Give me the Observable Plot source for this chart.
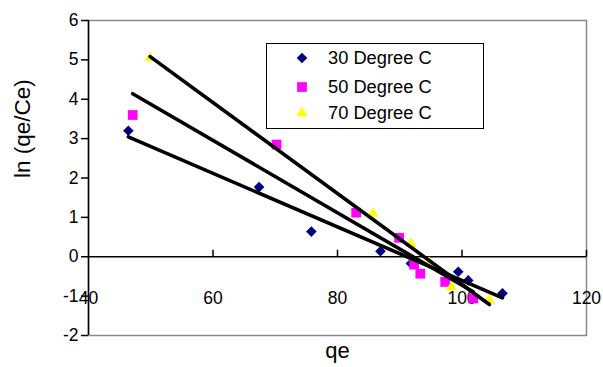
<!DOCTYPE html>
<html><head><meta charset="utf-8">
<script src="https://cdn.jsdelivr.net/npm/d3@7"></script>
<script src="https://cdn.jsdelivr.net/npm/@observablehq/plot@0.6"></script>
<style>
body{margin:0;background:#fff;font-family:"Liberation Sans",Arial,sans-serif;}
#wrap{position:relative;width:603px;height:367px;overflow:hidden;}
#legend{position:absolute;left:266px;top:43px;width:218px;height:86px;border:1.5px solid #000;background:#fff;box-sizing:border-box;}
.item{position:absolute;left:0;height:22px;width:210px;}
.item svg{position:absolute;left:25px;top:1px;}
.item span{position:absolute;left:61px;top:0;line-height:22px;font-size:18.3px;color:#000;white-space:nowrap;}
</style></head><body><div id="wrap"></div>
<script>
// axis ticks
const xTicks = [40, 60, 80, 100, 120];
const yTicks = [-2, -1, 0, 1, 2, 3, 4, 5, 6];
// series
const seriesNames = ["30 Degree C", "50 Degree C", "70 Degree C"];
const seriesColors = ["#000080", "#FF00FF", "#FFFF00"];
const seriesSymbols = ["diamond2", "square", "triangle"];
const seriesR = [4.8, 5.5, 4.1];
// data: qe and ln(qe/Ce)
const qe30 = [46.4, 67.4, 75.8, 86.9, 91.8, 99.4, 101.0, 106.5];
const ln30 = [3.2, 1.77, 0.64, 0.14, -0.17, -0.38, -0.6, -0.93];
const qe50 = [47.1, 70.2, 83.0, 89.9, 92.3, 93.3, 97.3, 101.8];
const ln50 = [3.6, 2.85, 1.12, 0.48, -0.2, -0.43, -0.64, -1.06];
const qe70 = [49.9, 85.7, 91.8, 94.7, 98.3, 104.4];
const ln70 = [5.05, 1.1, 0.33, -0.15, -0.77, -1.1];

const qeAll = [qe30, qe50, qe70];
const lnAll = [ln30, ln50, ln70];
const rows = [];
seriesNames.forEach((s, k) => qeAll[k].forEach((q, i) => rows.push({series: s, qe: q, ln: lnAll[k][i]})));

const tickUp = {draw(ctx) { ctx.moveTo(0, 0); ctx.lineTo(0, -7); }};
const font = '"Liberation Sans", Arial, sans-serif';

const marks = [
  Plot.frame({stroke: "#8a8a8a", strokeWidth: 1.5}),
  Plot.ruleY([0], {stroke: "#000", strokeWidth: 1.5}),
  Plot.dot(xTicks.slice(1), {x: d => d, y: 0, symbol: tickUp, fill: "none", stroke: "#000", strokeWidth: 1.5}),
  Plot.axisY({ticks: yTicks, tickSize: 7, tickPadding: 3, label: null, fontSize: 17.5, tickFormat: d => String(d), stroke: "#000", strokeWidth: 1.5}),
  Plot.ruleX([40], {stroke: "#000", strokeWidth: 1.5}),
  Plot.text(xTicks, {x: d => d, y: 0, dy: 42, text: d => String(d), fontSize: 17.5, fill: "#000"})
];
seriesNames.forEach((s, k) => {
  marks.push(Plot.dot(rows.filter(r => r.series === s), {
    x: "qe", y: "ln", symbol: seriesSymbols[k], fill: seriesColors[k], stroke: "none", r: seriesR[k]
  }));
});
marks.push(Plot.linearRegressionY(rows, {x: "qe", y: "ln", z: "series", stroke: "#000", strokeWidth: 3.6, ci: 0}));
marks.push(Plot.text(["qe"], {frameAnchor: "bottom", dy: 22, text: d => d, fontSize: 22, fill: "#000"}));
marks.push(Plot.text(["ln (qe/Ce)"], {frameAnchor: "left", dx: -66, rotate: -90, text: d => d, fontSize: 22.5, fill: "#000"}));

const chart = Plot.plot({
  width: 603, height: 367,
  marginLeft: 88, marginRight: 17, marginTop: 20, marginBottom: 32,
  style: {fontFamily: font, fontSize: "17.5px", color: "#000", background: "#fff", overflow: "visible"},
  x: {domain: [40, 120], axis: null},
  y: {domain: [-2, 6], axis: null},
  marks
});
const wrap = document.getElementById("wrap");
wrap.appendChild(chart);

// legend
const legend = document.createElement("div");
legend.id = "legend";
const centers = [14, 43, 69];
seriesNames.forEach((s, k) => {
  const item = document.createElement("div");
  item.className = "item";
  item.style.top = (centers[k] - 11) + "px";
  const sym = d3.symbol(k === 0 ? d3.symbolDiamond2 : k === 1 ? d3.symbolSquare : d3.symbolTriangle, Math.PI * seriesR[k] * seriesR[k])();
  item.innerHTML = `<svg width="20" height="20" viewBox="-10 -10 20 20"><path d="${sym}" fill="${seriesColors[k]}"/></svg><span>${s}</span>`;
  legend.appendChild(item);
});
wrap.appendChild(legend);
</script>
</body></html>
